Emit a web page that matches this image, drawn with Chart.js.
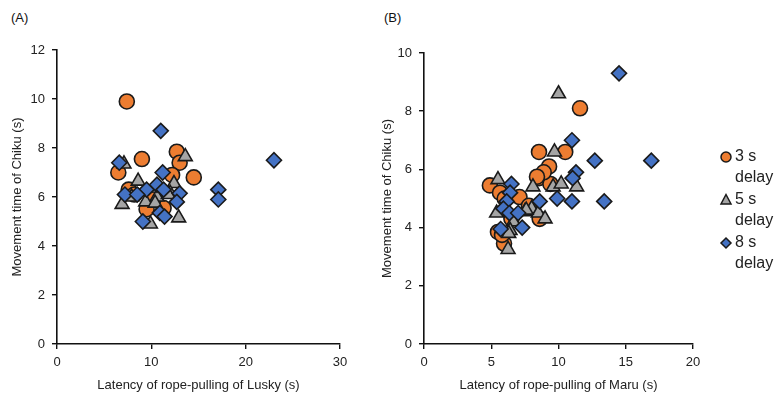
<!DOCTYPE html>
<html>
<head>
<meta charset="utf-8">
<script src="https://cdn.jsdelivr.net/npm/chart.js@4/dist/chart.umd.min.js"></script>
<style>
  html, body { margin: 0; padding: 0; background: #fff; }
  body { width: 780px; height: 401px; position: relative; overflow: hidden; font-family: "Liberation Sans", Arial, sans-serif; }
  .panel { position: absolute; top: 0; }
  .lab { position: absolute; top: 10px; font-size: 13px; color: #111; }
</style>
</head>
<body>
<div class="lab" style="left:11px">(A)</div>
<div class="lab" style="left:384px">(B)</div>
<canvas id="cA" class="panel" style="left:0px" width="370" height="401"></canvas>
<canvas id="cB" class="panel" style="left:370px" width="410" height="401"></canvas>
<script>
// ---- Data: panel A (Lusky latency vs Chiku movement time) ----
const seriesNames = ["3 s delay", "5 s delay", "8 s delay"];
const legendLines = [["3 s", "delay"], ["5 s", "delay"], ["8 s", "delay"]];

const A_x_3s = [7.4, 12.7, 13.0, 9.0, 6.5, 14.5, 12.2, 7.6, 9.5, 11.3, 10.2, 8.2];
const A_y_3s = [9.9, 7.85, 7.4, 7.55, 7.0, 6.8, 6.9, 6.3, 5.5, 5.55, 5.9, 6.1];

const A_x_5s = [13.6, 7.1, 8.6, 12.4, 6.9, 7.9, 10.6, 12.0, 9.4, 10.4, 12.9, 9.9, 11.8];
const A_y_5s = [7.65, 7.35, 6.65, 6.55, 5.7, 6.0, 6.0, 6.15, 5.8, 5.75, 5.15, 4.9, 6.1];

const A_x_8s = [11.0, 6.6, 11.2, 10.6, 9.5, 7.2, 8.5, 11.3, 13.0, 12.7, 17.1, 17.1, 9.1, 10.9, 11.4, 23.0];
const A_y_8s = [8.7, 7.4, 7.0, 6.5, 6.3, 6.1, 6.1, 6.3, 6.15, 5.8, 6.3, 5.9, 5.0, 5.35, 5.2, 7.5];

// ---- Data: panel B (Maru latency vs Chiku movement time) ----
const B_x_3s = [11.6, 10.5, 8.55, 9.3, 8.55, 9.4, 8.9, 8.4, 4.9, 5.65, 7.1, 7.8, 8.6, 6.5, 5.5, 5.95, 5.8, 6.0];
const B_y_3s = [8.1, 6.6, 6.6, 6.1, 5.7, 5.5, 5.9, 5.75, 5.45, 5.2, 5.05, 4.75, 4.3, 4.3, 3.85, 3.45, 3.75, 5.0];

const B_x_5s = [10.0, 9.7, 11.35, 8.1, 9.6, 5.5, 5.4, 7.5, 8.0, 8.5, 9.0, 6.65, 6.4, 6.25, 7.6, 6.3, 10.2];
const B_y_5s = [8.6, 6.6, 5.4, 5.4, 5.4, 5.65, 4.5, 4.55, 4.65, 4.5, 4.3, 4.2, 3.9, 3.25, 4.6, 3.8, 5.5];

const B_x_8s = [14.5, 11.0, 12.7, 16.9, 11.3, 11.05, 9.9, 11.0, 13.4, 6.5, 6.4, 6.15, 5.9, 6.35, 7.0, 8.6, 7.3, 5.7];
const B_y_8s = [9.3, 7.0, 6.3, 6.3, 5.9, 5.7, 5.0, 4.9, 4.9, 5.5, 5.2, 4.9, 4.65, 4.5, 4.5, 4.9, 4.0, 3.95];

const A_xTicks = [0, 10, 20, 30];
const A_yTicks = [0, 2, 4, 6, 8, 10, 12];
const B_xTicks = [0, 5, 10, 15, 20];
const B_yTicks = [0, 2, 4, 6, 8, 10];

const A_xTitle = "Latency of rope-pulling of Lusky (s)";
const B_xTitle = "Latency of rope-pulling of Maru (s)";
const yTitle = "Movement time of Chiku (s)";

// ---- styling ----
const FONT = "'Liberation Sans', Arial, Helvetica, sans-serif";
const colors = ["#ED7D31", "#A5A5A5", "#4472C4"];
const shapes = ["circle", "triangle", "rectRot"];
const radii = [7.5, 8, 7.5];
const orders = [3, 2, 1];

function pts(xs, ys) { return xs.map((x, i) => ({ x: x, y: ys[i] })); }

function makeDatasets(sets) {
  return sets.map((s, i) => ({
    label: seriesNames[i],
    data: pts(s[0], s[1]),
    pointStyle: shapes[i],
    pointRadius: radii[i],
    pointHoverRadius: radii[i],
    backgroundColor: colors[i],
    borderColor: "#1a1a1a",
    borderWidth: 1.6,
    order: orders[i]
  }));
}

function axis(min, max, ticks, title, isX, size) {
  return {
    type: "linear",
    min: min, max: max,
    afterBuildTicks: (sc) => { sc.ticks = ticks.map(v => ({ value: v })); },
    afterFit: (sc) => { if (isX) sc.height = size; else sc.width = size; },
    border: { display: true, color: "#111", width: 1.6 },
    grid: { display: true, drawOnChartArea: false, drawTicks: true, tickLength: 5, color: "#111", lineWidth: 1.4 },
    ticks: { color: "#222", font: { family: FONT, size: 13 }, padding: isX ? 6 : 7, maxRotation: 0 },
    title: { display: true, text: title, color: "#222", font: { family: FONT, size: 13 }, padding: isX ? { top: 4, bottom: 8 } : { top: 10, bottom: 4 } }
  };
}

function drawShape(ctx, shape, x, y, r) {
  if (shape === "circle") { ctx.arc(x, y, r, 0, Math.PI * 2); }
  else if (shape === "triangle") {
    ctx.moveTo(x, y - r * 1.1); ctx.lineTo(x + r, y + r * 0.8); ctx.lineTo(x - r, y + r * 0.8); ctx.closePath();
  } else {
    ctx.moveTo(x, y - r); ctx.lineTo(x + r, y); ctx.lineTo(x, y + r); ctx.lineTo(x - r, y); ctx.closePath();
  }
}

const legendPlugin = {
  id: "customLegend",
  afterDraw(chart, args, opts) {
    if (!opts.show) return;
    const ctx = chart.ctx;
    ctx.save();
    ctx.font = "16px " + FONT;
    ctx.textBaseline = "middle";
    let y = 157;
    for (let i = 0; i < legendLines.length; i++) {
      ctx.fillStyle = colors[i];
      ctx.strokeStyle = "#1a1a1a";
      ctx.lineWidth = 1.5;
      ctx.beginPath();
      drawShape(ctx, shapes[i], 356, y, 5);
      ctx.fill(); ctx.stroke();
      ctx.fillStyle = "#222";
      ctx.fillText(legendLines[i][0], 365, y);
      ctx.fillText(legendLines[i][1], 365, y + 21);
      y += 43;
    }
    ctx.restore();
  }
};

function makeChart(id, sets, xr, yr, xTicks, yTicks, xTitle, yW, padRight, showLegend, padTop) {
  return new Chart(document.getElementById(id), {
    type: "scatter",
    data: { datasets: makeDatasets(sets) },
    options: {
      responsive: false,
      animation: false,
      layout: { padding: { left: 0, right: padRight, top: padTop, bottom: 0 } },
      plugins: { legend: { display: false }, tooltip: { enabled: false }, customLegend: { show: showLegend } },
      scales: {
        x: axis(xr[0], xr[1], xTicks, xTitle, true, 57),
        y: axis(yr[0], yr[1], yTicks, yTitle, false, yW)
      }
    },
    plugins: [legendPlugin]
  });
}

makeChart("cA", [[A_x_3s, A_y_3s], [A_x_5s, A_y_5s], [A_x_8s, A_y_8s]],
  [0, 30], [0, 12], A_xTicks, A_yTicks, A_xTitle, 57, 30, false, 50);
makeChart("cB", [[B_x_3s, B_y_3s], [B_x_5s, B_y_5s], [B_x_8s, B_y_8s]],
  [0, 20], [0, 10], B_xTicks, B_yTicks, B_xTitle, 54, 87, true, 53);
</script>
</body>
</html>
